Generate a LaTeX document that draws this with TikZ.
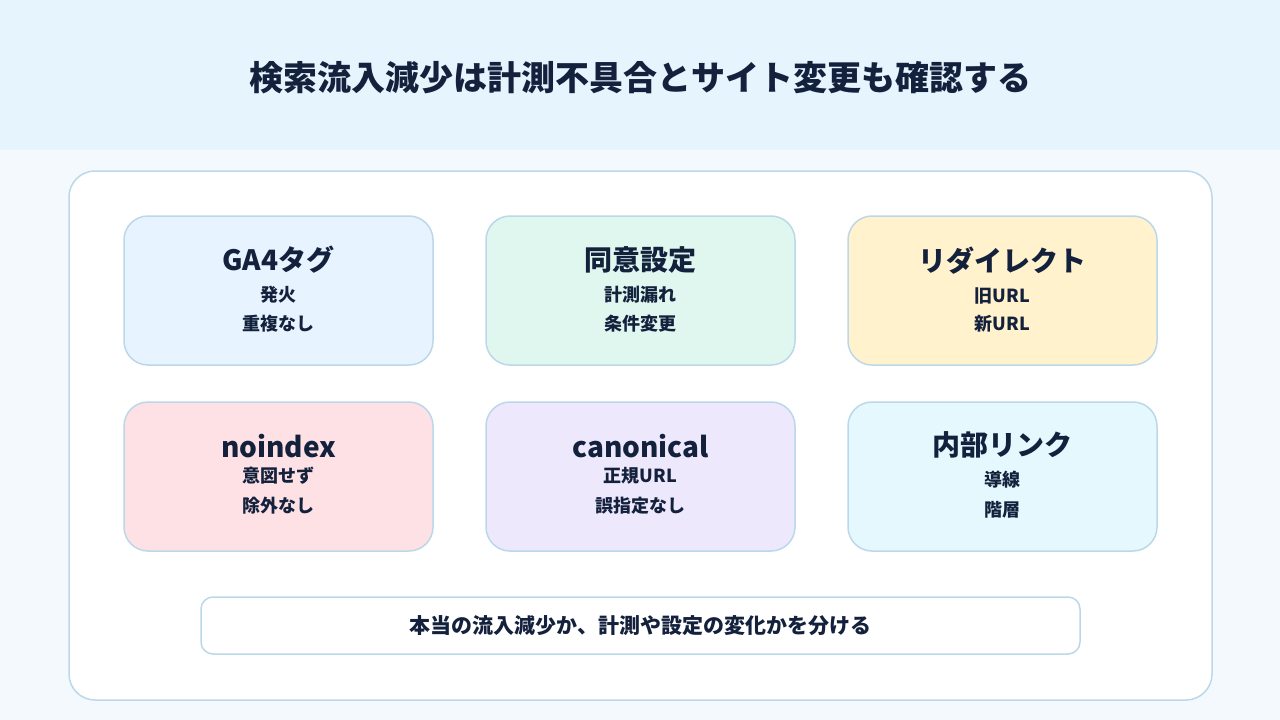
\documentclass[tikz,border=0pt]{standalone}
\usepackage{fontspec}
\setmainfont{Noto Sans CJK JP}
\usetikzlibrary{positioning}
\definecolor{ink}{HTML}{14213D}
\definecolor{edge}{HTML}{BBD8EA}
\definecolor{band}{HTML}{E6F4FE}
\definecolor{page}{HTML}{F4F9FD}
\definecolor{cblue}{HTML}{E7F3FE}
\definecolor{cgreen}{HTML}{E0F7EF}
\definecolor{cyellow}{HTML}{FFF2CC}
\definecolor{cpink}{HTML}{FDE1E4}
\definecolor{cpurple}{HTML}{EEE8FD}
\definecolor{ccyan}{HTML}{E5F8FD}

\begin{document}
\begin{tikzpicture}[x=1pt,y=-1pt,
  card/.style={draw=edge,line width=1.5pt,rounded corners=24pt,minimum width=309pt,minimum height=149pt,inner sep=0pt},
  head/.style={text=ink,font=\fontsize{28}{32}\selectfont\bfseries},
  sub/.style={text=ink,font=\fontsize{18}{21}\selectfont\bfseries}]
\useasboundingbox (0,0) rectangle (1280,720);
\fill[page] (0,0) rectangle (1280,720);
\fill[band] (0,0) rectangle (1280,150);

\node[text=ink,font=\fontsize{34}{40}\selectfont\bfseries] (T) at (640,78) {検索流入減少は計測不具合とサイト変更も確認する};

\node[draw=edge,fill=white,line width=1.5pt,rounded corners=26pt,minimum width=1143pt,minimum height=529pt] (P) at (640.5,435.5) {};

% first row
\node[card,fill=cblue] (A) at (278.5,290.5) {};
\node[head] (A1) at (278.5,260) {GA4タグ};
\node[sub] (A2) at (278.5,295) {発火};
\node[sub] (A3) at (278.5,324) {重複なし};

\node[card,fill=cgreen] (B) at (640.5,290.5) {};
\node[head] (B1) at (640.5,260) {同意設定};
\node[sub] (B2) at (640.5,295) {計測漏れ};
\node[sub] (B3) at (640.5,324) {条件変更};

\node[card,fill=cyellow] (C) at (1002.5,290.5) {};
\node[head] (C1) at (1002.5,261) {リダイレクト};
\node[sub] (C2) at (1002.5,296) {旧URL};
\node[sub] (C3) at (1002.5,324) {新URL};

% second row
\node[card,fill=cpink] (D) at (278.5,476.5) {};
\node[head] (D1) at (278.5,446) {noindex};
\node[sub] (D2) at (278.5,476) {意図せず};
\node[sub] (D3) at (278.5,506) {除外なし};

\node[card,fill=cpurple] (E) at (640.5,476.5) {};
\node[head] (E1) at (640.5,446) {canonical};
\node[sub] (E2) at (640.5,476) {正規URL};
\node[sub] (E3) at (640.5,506) {誤指定なし};

\node[card,fill=ccyan] (F) at (1002.5,476.5) {};
\node[head] (F1) at (1002.5,445) {内部リンク};
\node[sub] (F2) at (1002.5,480) {導線};
\node[sub] (F3) at (1002.5,510) {階層};

\node[draw=edge,fill=white,line width=1.5pt,rounded corners=12pt,minimum width=879pt,minimum height=57pt,text=ink,font=\fontsize{21}{24}\selectfont\bfseries] (G) at (640.5,625.5) {本当の流入減少か、計測や設定の変化かを分ける};
\end{tikzpicture}
\end{document}
